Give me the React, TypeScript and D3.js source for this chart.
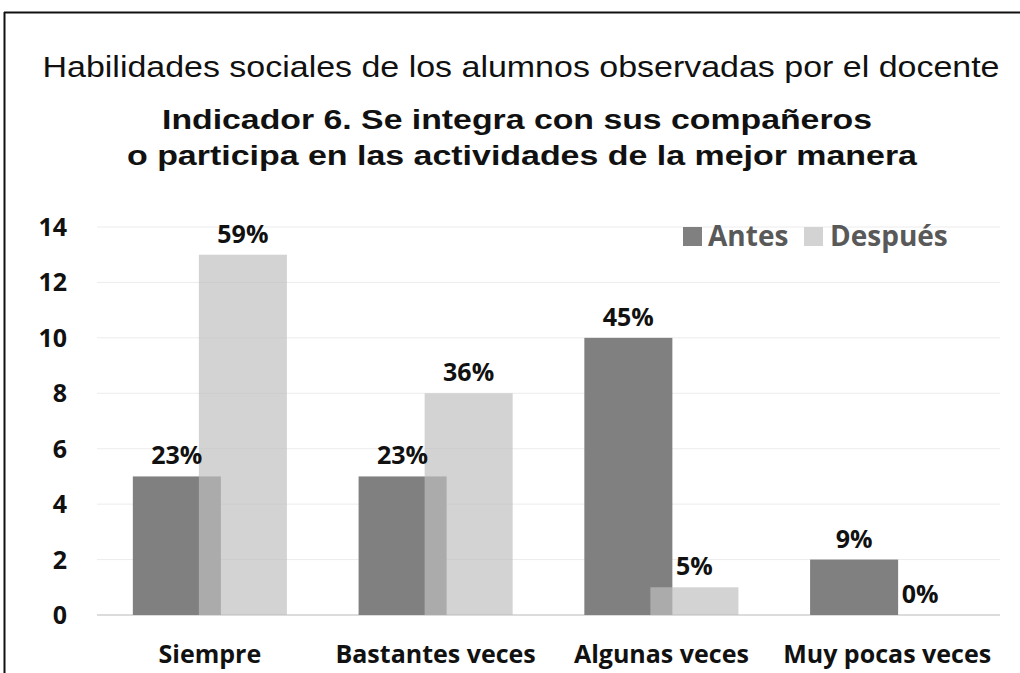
import React from "react";
import * as d3 from "d3";

const categories = ["Siempre", "Bastantes veces", "Algunas veces", "Muy pocas veces"];
const antes = [5, 5, 10, 2];
const despues = [13, 8, 1, 0];
const antesPct = ["23%", "23%", "45%", "9%"];
const despuesPct = ["59%", "36%", "5%", "0%"];
const yTicks = [0, 2, 4, 6, 8, 10, 12, 14];
const seriesNames = ["Antes", "Después"];

const W = 1020;
const H = 673;
const LABEL_FONT = "'Open Sans', sans-serif";
const TITLE_FONT = "'Liberation Sans', Arial, sans-serif";

export default function App() {
  const x = d3.scaleBand<string>().domain(categories).range([97, 1000]).padding(0);
  const y = d3.scaleLinear().domain([0, 14]).range([615, 227]);
  const bw = x.bandwidth() * 0.39;
  const offset = bw * 0.75;
  const groupW = bw + offset;
  const antesX = (c: string) => (x(c) as number) + x.bandwidth() / 2 - groupW / 2;
  const despX = (c: string) => antesX(c) + offset;

  return (
    <svg
      width={W}
      height={H}
      style={{ position: "absolute", left: 0, top: 0, background: "#fff" }}
    >
      <rect x={0} y={0} width={W} height={H} fill="#fff" />
      {/* frame */}
      <line x1={4} x2={W} y1={12.5} y2={12.5} stroke="#111" strokeWidth={2} />
      <line x1={4.5} x2={4.5} y1={12} y2={H} stroke="#111" strokeWidth={2} />

      {/* titles */}
      <text
        x={521}
        y={77}
        textAnchor="middle"
        fontFamily={TITLE_FONT}
        fontSize={30}
        fill="#111"
        textLength={957}
        lengthAdjust="spacingAndGlyphs"
      >
        Habilidades sociales de los alumnos observadas por el docente
      </text>
      <text
        x={517}
        y={129}
        textAnchor="middle"
        fontFamily={TITLE_FONT}
        fontSize={28}
        fontWeight="bold"
        fill="#111"
        textLength={710}
        lengthAdjust="spacingAndGlyphs"
      >
        Indicador 6. Se integra con sus compañeros
      </text>
      <text
        x={522}
        y={165}
        textAnchor="middle"
        fontFamily={TITLE_FONT}
        fontSize={28}
        fontWeight="bold"
        fill="#111"
        textLength={790}
        lengthAdjust="spacingAndGlyphs"
      >
        o participa en las actividades de la mejor manera
      </text>

      {/* gridlines */}
      {yTicks.map((t) => (
        <line
          key={"g" + t}
          x1={97}
          x2={1000}
          y1={y(t)}
          y2={y(t)}
          stroke={t === 0 ? "#d0d0d0" : "#ececec"}
          strokeWidth={t === 0 ? 1.5 : 1}
        />
      ))}
      {/* y tick labels */}
      {yTicks.map((t) => (
        <text
          key={"t" + t}
          x={67}
          y={y(t)}
          dy="0.36em"
          textAnchor="end"
          fontFamily={LABEL_FONT}
          fontWeight="bold"
          fontSize={25}
          fill="#111"
        >
          {t}
        </text>
      ))}

      {/* bars */}
      {categories.map((c, i) => (
        <rect
          key={"a" + c}
          x={antesX(c)}
          y={y(antes[i])}
          width={bw}
          height={y(0) - y(antes[i])}
          fill="#808080"
        />
      ))}
      {categories.map((c, i) => (
        <rect
          key={"d" + c}
          x={despX(c)}
          y={y(despues[i])}
          width={bw}
          height={y(0) - y(despues[i])}
          fill="#bfbfbf"
          fillOpacity={0.685}
        />
      ))}

      {/* data labels */}
      {categories.map((c, i) => (
        <text
          key={"la" + c}
          x={antesX(c) + bw / 2}
          y={y(antes[i]) - 12}
          textAnchor="middle"
          fontFamily={LABEL_FONT}
          fontWeight="bold"
          fontSize={25}
          fill="#111"
        >
          {antesPct[i]}
        </text>
      ))}
      {categories.map((c, i) => (
        <text
          key={"ld" + c}
          x={despX(c) + bw / 2}
          y={y(despues[i]) - 12}
          textAnchor="middle"
          fontFamily={LABEL_FONT}
          fontWeight="bold"
          fontSize={25}
          fill="#111"
        >
          {despuesPct[i]}
        </text>
      ))}

      {/* category labels */}
      {categories.map((c) => (
        <text
          key={"c" + c}
          x={(x(c) as number) + x.bandwidth() / 2}
          y={663}
          textAnchor="middle"
          fontFamily={LABEL_FONT}
          fontWeight="bold"
          fontSize={25}
          fill="#111"
        >
          {c}
        </text>
      ))}

      {/* legend */}
      <rect x={683} y={227} width={19} height={19} fill="#808080" />
      <text x={708} y={246} fontFamily={LABEL_FONT} fontWeight="bold" fontSize={28} fill="#595959">
        {seriesNames[0]}
      </text>
      <rect x={804} y={227} width={19} height={19} fill="#d3d3d3" />
      <text x={830} y={246} fontFamily={LABEL_FONT} fontWeight="bold" fontSize={28} fill="#595959">
        {seriesNames[1]}
      </text>
    </svg>
  );
}
